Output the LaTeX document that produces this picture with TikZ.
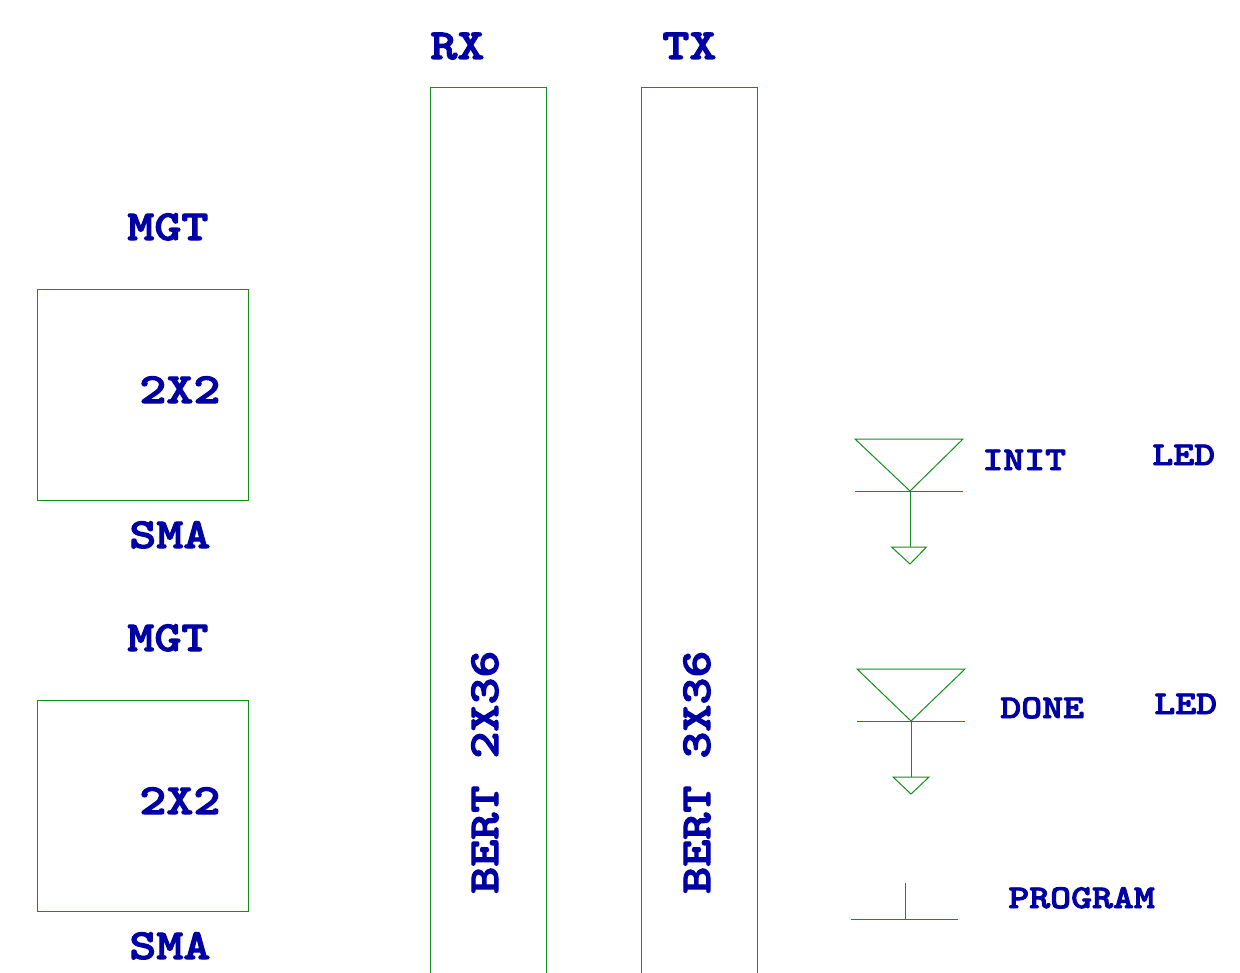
\documentclass[tikz,border=0pt]{standalone}
\usepackage{fontspec}
\usepackage{tikz}
\usetikzlibrary{positioning}

\newfontfamily\labelfont[FakeStretch=1.2,FakeBold=2.6]{lmmonolt10-bold.otf}
\definecolor{netgreen}{RGB}{20,140,30}
\definecolor{textblue}{RGB}{0,0,165}

\tikzset{
    wire/.style={draw=netgreen, line width=0.02cm},
    blockbox/.style={wire, rectangle, minimum size=4.22cm, inner sep=0pt},
    biglabel/.style={text=textblue, inner sep=0pt, anchor=base west, font=\labelfont\fontsize{24.4}{24.4}\selectfont},
    smalllabel/.style={text=textblue, inner sep=0pt, anchor=base west, font=\labelfont\fontsize{18.9}{18.9}\selectfont},
}

\begin{document}
\begin{tikzpicture}
        \useasboundingbox (0,0) rectangle (24.8,-19.46);

        % 2x2 blocks
        \node[blockbox] at (2.85,-7.9) (upper){};
        \node[blockbox] at (2.85,-16.11) (lower){};

        % bert columns, they run off the page
        \coordinate (rx1) at (8.61,-19.46);
        \coordinate (rx2) at (8.61,-1.76);
        \coordinate (rx3) at (10.92,-1.76);
        \coordinate (rx4) at (10.92,-19.46);
        \coordinate (tx1) at (12.83,-19.46);
        \coordinate (tx2) at (12.83,-1.76);
        \coordinate (tx3) at (15.14,-1.76);
        \coordinate (tx4) at (15.14,-19.46);
        \draw[wire] (rx1) -- (rx2) -- (rx3) -- (rx4);
        \draw[wire] (tx1) -- (tx2) -- (tx3) -- (tx4);

        % init led
        \coordinate (inita) at (17.10,-8.78);
        \coordinate (initb) at (19.26,-8.78);
        \coordinate (initc) at (18.20,-9.82);
        \coordinate (initd) at (17.10,-9.82);
        \coordinate (inite) at (19.26,-9.82);
        \coordinate (initf) at (18.20,-10.94);
        \coordinate (initg) at (17.83,-10.94);
        \coordinate (inith) at (18.53,-10.94);
        \coordinate (initi) at (18.20,-11.28);
        \draw[wire] (inita) -- (initb) -- (initc) -- cycle;
        \draw[wire] (initd) -- (inite);
        \draw[wire] (initc) -- (initf);
        \draw[wire] (initg) -- (inith) -- (initi) -- cycle;

        % done led
        \coordinate (donea) at (17.14,-13.38);
        \coordinate (doneb) at (19.30,-13.38);
        \coordinate (donec) at (18.22,-14.42);
        \coordinate (doned) at (17.14,-14.42);
        \coordinate (donee) at (19.30,-14.42);
        \coordinate (donef) at (18.22,-15.54);
        \coordinate (doneg) at (17.86,-15.54);
        \coordinate (doneh) at (18.58,-15.54);
        \coordinate (donei) at (18.22,-15.88);
        \draw[wire] (donea) -- (doneb) -- (donec) -- cycle;
        \draw[wire] (doned) -- (donee);
        \draw[wire] (donec) -- (donef);
        \draw[wire] (doneg) -- (doneh) -- (donei) -- cycle;

        % program button
        \coordinate (proga) at (17.02,-18.38);
        \coordinate (progb) at (19.16,-18.38);
        \coordinate (progc) at (18.10,-18.38);
        \coordinate (progd) at (18.10,-17.66);
        \draw[wire] (proga) -- (progb);
        \draw[wire] (progc) -- (progd);

        % labels
        \node[biglabel] at (8.60,-1.18) (rxlabel){RX};
        \node[biglabel] at (13.24,-1.18) (txlabel){TX};
        \node[biglabel] at (2.54,-4.80) (mgtupper){MGT};
        \node[biglabel] at (2.78,-8.06) (sizeupper){2X2};
        \node[biglabel] at (2.58,-10.96) (smaupper){SMA};
        \node[biglabel] at (2.54,-13.02) (mgtlower){MGT};
        \node[biglabel] at (2.78,-16.28) (sizelower){2X2};
        \node[biglabel] at (2.58,-19.18) (smalower){SMA};
        \node[biglabel, rotate=90] at (9.96,-17.88) (bertrx){BERT 2X36};
        \node[biglabel, rotate=90] at (14.20,-17.88) (berttx){BERT 3X36};
        \node[smalllabel] at (19.64,-9.40) (initlabel){INIT};
        \node[smalllabel] at (23.04,-9.30) (ledinit){LED};
        \node[smalllabel] at (20.00,-14.36) (donelabel){DONE};
        \node[smalllabel] at (23.08,-14.28) (leddone){LED};
        \node[smalllabel] at (20.16,-18.16) (proglabel){PROGRAM};
    \end{tikzpicture}
\end{document}
